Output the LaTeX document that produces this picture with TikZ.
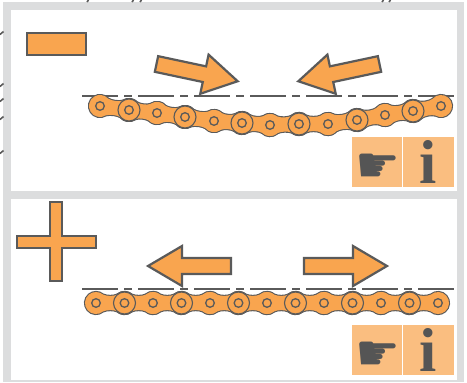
\documentclass[tikz,border=0pt]{standalone}
\usepackage{fontspec}
\newfontfamily\infofont{Liberation Serif}
\newfontfamily\symbolfont{DejaVu Sans}

\definecolor{chainorange}{RGB}{249,165,79}
\definecolor{lightorange}{RGB}{250,190,128}
\definecolor{outlinegray}{RGB}{90,90,90}
\definecolor{framegray}{RGB}{220,221,222}
\definecolor{icongray}{RGB}{85,85,85}

\tikzset{
  signshape/.style={fill=chainorange, draw=outlinegray, line width=1.1pt},
  centerline/.style={draw=outlinegray, line width=1pt, dash pattern=on 18pt off 3pt on 4pt off 3pt},
  plate/.style={fill=chainorange, draw=outlinegray, line width=0.55pt},
  pin/.style={fill=chainorange, draw=outlinegray, line width=0.65pt},
  iconbox/.style={fill=lightorange},
  infoglyph/.style={text=icongray, inner sep=1pt, font=\infofont\bfseries\fontsize{31}{31}\selectfont},
  handglyph/.style={text=icongray, inner sep=1pt, font=\symbolfont\fontsize{25}{25}\selectfont}
}

% one plate from (0,0) to (\L,0)
\newcommand\platepath{(50:11) .. controls +(4,-1.8) and +(-4,-1.8) .. ([shift={(\L,0)}]130:11)
  arc[start angle=130, end angle=-130, radius=11]
  .. controls +(-4,1.8) and +(4,1.8) .. (-50:11)
  arc[start angle=-50, end angle=-310, radius=11] -- cycle}

% plates between consecutive pins
\newcommand\chainplates[2]{%
  \foreach \x/\y [count=\i, remember=\x as \px (initially 0), remember=\y as \py (initially 0)] in #2 {
    \ifnum\i>1
      \pgfmathsetmacro\L{veclen(\x-\px,\y-\py)}
      \pgfmathsetmacro\ang{atan2(\y-\py,\x-\px)}
      \path[#1, shift={(\px,\py)}, rotate=\ang] \platepath;
    \fi
  }}

\def\toppins{100/276, 129/272, 157/269, 185/265, 214/261, 242/259, 270/257, 299/258, 328/258, 357/262, 385/267, 413/271, 441/276}
\def\bottompins{96/79, 124.5/79, 153/79, 181.5/79, 210/79, 238.5/79, 267/79, 295.5/79, 324/79, 352.5/79, 381/79, 409.5/79, 438/79}

\begin{document}
\begin{tikzpicture}[x=0.5pt, y=0.5pt]
\useasboundingbox (0,0) rectangle (467,382);

% Frame and panels
\fill[white] (0,0) rectangle (467,382);
\fill[framegray] (3,0) rectangle (464,380);
\fill[white] (11,191) rectangle (457,372);
\fill[white] (11,2) rectangle (457,183);
\foreach \y in {349, 297, 282, 264, 230}
  \draw[outlinegray, line width=0.8pt] (0,\y-1.5) -- (3.5,\y+1.5);
\foreach \x in {87, 132, 140, 382, 389}
  \draw[outlinegray, line width=0.8pt] (\x,380) -- (\x+1.5,382);

% Signs
\draw[signshape] (27,327) rectangle (86,349);
\draw[signshape] (50,180) -- (62,180) -- (62,146) -- (96,146) -- (96,134) -- (62,134)
  -- (62,101) -- (50,101) -- (50,134) -- (17,134) -- (17,146) -- (50,146) -- cycle;

% Arrows
\foreach \x/\y/\a in {156.5/318/-12, 379.5/318/192, 231/116/180, 304/116/0}
  \draw[signshape, shift={(\x,\y)}, rotate=\a] (0,8) -- (49,8) -- (49,20) -- (83,0)
    -- (49,-20) -- (49,-8) -- (0,-8) -- cycle;

% Center lines
\draw[centerline] (82,286) -- (455,286);
\draw[centerline] (82,93) -- (455,93);

% Sagging chain
\chainplates{draw=outlinegray, line width=1.1pt}{\toppins}
\chainplates{fill=chainorange}{\toppins}
\foreach \x/\y [count=\i] in \toppins {
  \ifodd\i\else \draw[plate] (\x,\y) circle (11); \fi
  \draw[pin] (\x,\y) circle (4.3);
}

% Stretched chain
\chainplates{draw=outlinegray, line width=1.1pt}{\bottompins}
\chainplates{fill=chainorange}{\bottompins}
\foreach \x/\y [count=\i] in \bottompins {
  \ifodd\i\else \draw[plate] (\x,\y) circle (11); \fi
  \draw[pin] (\x,\y) circle (4.3);
}

% Icons
\fill[iconbox] (352,195) rectangle (402,245);
\fill[iconbox] (403,195) rectangle (454,245);
\fill[iconbox] (352,7) rectangle (402,57);
\fill[iconbox] (403,7) rectangle (454,57);
\node[handglyph] (handtop) at (377.5,214) {☛};
\node[handglyph] (handbottom) at (377.5,26) {☛};
\node[infoglyph, anchor=base] (infotop) at (428.5,199) {i};
\node[infoglyph, anchor=base] (infobottom) at (428.5,11) {i};

\end{tikzpicture}
\end{document}
